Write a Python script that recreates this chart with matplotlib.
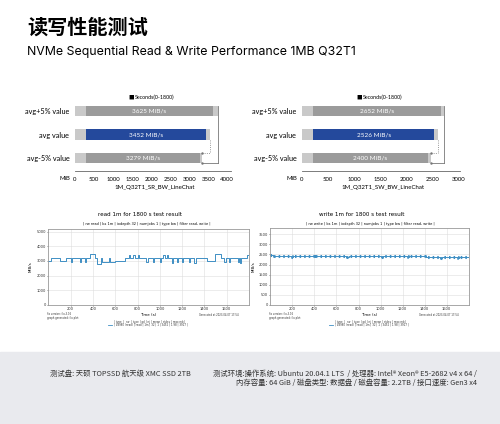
import numpy as np
import matplotlib.pyplot as plt
from matplotlib.patches import Rectangle

# ---- data ----
bar_labels = ['avg+5% value', 'avg value', 'avg-5% value']
read_vals = [3625, 3452, 3279]
read_hi = [3770, 3555, 3340]
write_vals = [2652, 2526, 2400]
write_hi = [2720, 2600, 2470]

read_t = [0, 20, 40, 100, 160, 200, 210, 280, 290, 330, 340, 370, 420, 440, 470, 480,
          540, 550, 600, 690, 720, 735, 760, 775, 800, 815, 880, 890, 940, 950, 1000, 1010,
          1030, 1045, 1060, 1075, 1110, 1120, 1150, 1160, 1200, 1210, 1260, 1270, 1310, 1320,
          1420, 1495, 1545, 1580, 1590, 1620, 1630, 1700, 1710, 1720, 1730, 1785, 1800]
read_v = [3000, 3200, 3220, 3020, 3220, 2950, 3220, 2900, 3220, 2950, 3220, 3450, 3220, 2800, 3220, 2950,
          3220, 2900, 3000, 3220, 3420, 3220, 3420, 3220, 3420, 3220, 2900, 3220, 2950, 3220, 2900, 3220,
          3420, 3220, 3420, 3220, 2850, 3220, 2900, 3220, 2950, 3220, 2900, 3220, 2850, 3220,
          3000, 3450, 3220, 2950, 3220, 2900, 3220, 2950, 3220, 2850, 3220, 3400, 3400]

write_t = [0, 30, 200, 210, 400, 410, 700, 710, 1000, 1010, 1250, 1260, 1400, 1550, 1560, 1700, 1710, 1800]
write_v = [2470, 2430, 2380, 2430, 2390, 2430, 2390, 2430, 2390, 2430, 2390, 2430, 2370, 2320, 2370, 2330, 2370, 2370]

W, H = 500, 424


def ax_px(fig, l, t, r, b):
    return fig.add_axes([l / W, 1 - b / H, (r - l) / W, (b - t) / H])


def ftxt(fig, x, y, s, **kw):
    fig.text(x / W, 1 - y / H, s, **kw)


plt.rcParams['font.family'] = ['Lato', 'Noto Sans CJK SC', 'DejaVu Sans']
fig = plt.figure(figsize=(5, 4.24), dpi=100)

ftxt(fig, 27, 27, '读写性能测试', fontsize=14.5, fontweight='bold', va='center',
     family=['Noto Sans CJK SC', 'DejaVu Sans'])
ftxt(fig, 27, 52, 'NVMe Sequential Read & Write Performance 1MB Q32T1', fontsize=8.9, va='center',
     family=['Inter', 'DejaVu Sans'])

light = '#c9c9c9'
dark = '#9b9b9b'
blue = '#24499c'


def bar_chart(rect, vals, hi, xmax, ticks, off, xlabel, lx):
    ax = ax_px(fig, *rect)
    y = [2, 1, 0]
    for yi, v, h, i in zip(y, vals, hi, range(3)):
        ax.barh(yi, h, height=0.44, color=light, left=0)
        ax.barh(yi, v - off, height=0.44, left=off, color=blue if i == 1 else dark)
        ax.text(v / 2 + off / 2, yi, f'{v} MiB/s', color='white', ha='center', va='center', fontsize=4.6)
    # brackets
    ax.plot([hi[0], hi[0]], [2.22, -0.22], color='#777777', lw=0.6)
    ax.plot([hi[2], hi[0]], [-0.22, -0.22], color='#777777', lw=0.6, marker='.', markersize=1.5, markevery=[0])
    ax.plot([hi[1], hi[1]], [0.78, 0.22], color='#777777', lw=0.6, ls=':')
    ax.plot([hi[2], hi[1]], [0.22, 0.22], color='#777777', lw=0.6, ls=':', marker='.', markersize=1.5, markevery=[0])
    ax.set_xlim(0, xmax)
    ax.set_ylim(-0.55, 2.47)
    ax.set_yticks(y)
    ax.set_yticklabels(bar_labels, fontsize=5.2)
    ax.set_xticks(ticks)
    ax.set_xticklabels([str(t) for t in ticks], fontsize=4.3)
    ax.tick_params(length=0, pad=4)
    for s in ['top', 'right', 'left']:
        ax.spines[s].set_visible(False)
    ax.spines['bottom'].set_color('#666666')
    ax.spines['bottom'].set_linewidth(0.6)
    ax.text(-0.03, -0.11, 'MiB', transform=ax.transAxes, fontsize=4.3, ha='right', va='center')
    ftxt(fig, lx, 188, xlabel, fontsize=4.4, ha='center', va='center')
    ftxt(fig, lx - 24, 97, '■', fontsize=4, ha='center', va='center')
    ftxt(fig, lx - 20, 97, 'Seconds(0-1800)', fontsize=3.8, ha='left', va='center')
    return ax


bar_chart((75, 100, 231, 171), read_vals, read_hi, 4100, [0, 500, 1000, 1500, 2000, 2500, 3000, 3500, 4000],
          290, '1M_Q32T1_SR_BW_LineChat', 155)
bar_chart((302, 100, 460, 171), write_vals, write_hi, 3020, [0, 500, 1000, 1500, 2000, 2500, 3000],
          210, '1M_Q32T1_SW_BW_LineChat', 383)

line_c = '#3f8fc4'


def line_chart(rect, t, v, ymax, yticks, title, sub, cx, sx, ylx, dotted):
    ax = ax_px(fig, *rect)
    ax.plot(t, v, drawstyle='steps-post', color=line_c, lw=0.7)
    if dotted:
        ax.plot(t, v, drawstyle='steps-post', color=line_c, lw=2.2, ls=(0, (0.5, 1.0)))
    ax.set_xlim(0, 1800)
    ax.set_ylim(0, ymax)
    ax.set_xticks([200, 400, 600, 800, 1000, 1200, 1400, 1600])
    ax.set_yticks(yticks)
    ax.tick_params(labelsize=2.6, length=1, width=0.4, pad=0.8, colors='#333333')
    ax.grid(color='#dddddd', lw=0.4)
    for s in ax.spines.values():
        s.set_color('#999999')
        s.set_linewidth(0.6)
    ax.set_xlabel('Time (s)', fontsize=2.9, family='DejaVu Sans')
    ax.set_ylabel('MiB/s', fontsize=2.9, family='DejaVu Sans')
    l, tp, r, b = rect
    ax.xaxis.set_label_coords(0.5, -(313 - b) / (b - tp))
    ax.yaxis.set_label_coords((ylx - l) / (r - l), 0.5)
    for lab in ax.get_xticklabels() + ax.get_yticklabels():
        lab.set_family('DejaVu Sans')
    ftxt(fig, cx, 214, title, fontsize=4.1, ha='center', va='center', family='DejaVu Sans')
    ftxt(fig, sx, 224, sub, fontsize=2.5, ha='center', va='center', family='DejaVu Sans')
    ftxt(fig, l - 1, 316, 'fio version: fio-3.16\ngraph generated: fio-plot', fontsize=1.8,
         ha='left', va='center', family='DejaVu Sans', color='#333333', linespacing=1.2)
    ftxt(fig, r - 10, 314.5, 'Generated at 2023-04-07 17:54', fontsize=1.8,
         ha='right', va='center', family='DejaVu Sans', color='#333333')
    mid = (l + r) / 2
    ftxt(fig, mid - 35, 322, '| type  |  rw  | type | qd | nj | mean | stdev | max mb |', fontsize=1.9,
         ha='left', va='center', family='DejaVu Sans', color='#333333')
    ftxt(fig, mid - 35, 325, '| 4d980 (read) | read | 1m | 32 | 1 | 3452 | 1.98 | 3917 |', fontsize=1.9,
         ha='left', va='center', family='DejaVu Sans', color='#333333')
    fig.add_artist(plt.Line2D([(mid - 41) / W, (mid - 37) / W], [1 - 325 / H] * 2, color=line_c, lw=0.6))
    return ax


line_chart((48.4, 229, 249, 305), read_t, read_v, 5180, [0, 1000, 2000, 3000, 4000, 5000],
           'read 1m for 1800 s test result',
           '| rw read | bs 1m | iodepth 32 | numjobs 1 | type bw | filter read, write |', 140, 147, 33, False)
line_chart((270.3, 228, 468.8, 305), write_t, write_v, 3810,
           [0, 500, 1000, 1500, 2000, 2500, 3000, 3500],
           'write 1m for 1800 s test result',
           '| rw write | bs 1m | iodepth 32 | numjobs 1 | type bw | filter read, write |', 362, 370, 256, True)

# footer
fig.patches.append(Rectangle((0, 0), 1, 1 - 352 / H, transform=fig.transFigure,
                             color='#e9eaee', zorder=-1))
cjk = ['Noto Sans CJK SC', 'DejaVu Sans']
ftxt(fig, 50, 374, '测试盘: 天硕 TOPSSD 航天级 XMC SSD 2TB', fontsize=5.3, va='center', family=cjk, color='#333333')
ftxt(fig, 477, 374, '测试环境:操作系统: Ubuntu 20.04.1 LTS  / 处理器: Intel® Xeon® E5-2682 v4 x 64 /',
     fontsize=5.3, va='center', ha='right', family=cjk, color='#333333')
ftxt(fig, 477, 383, '内存容量: 64 GiB / 磁盘类型: 数据盘 / 磁盘容量: 2.2TB / 接口速度: Gen3 x4',
     fontsize=5.3, va='center', ha='right', family=cjk, color='#333333')

fig.savefig('out.png', dpi=100)
